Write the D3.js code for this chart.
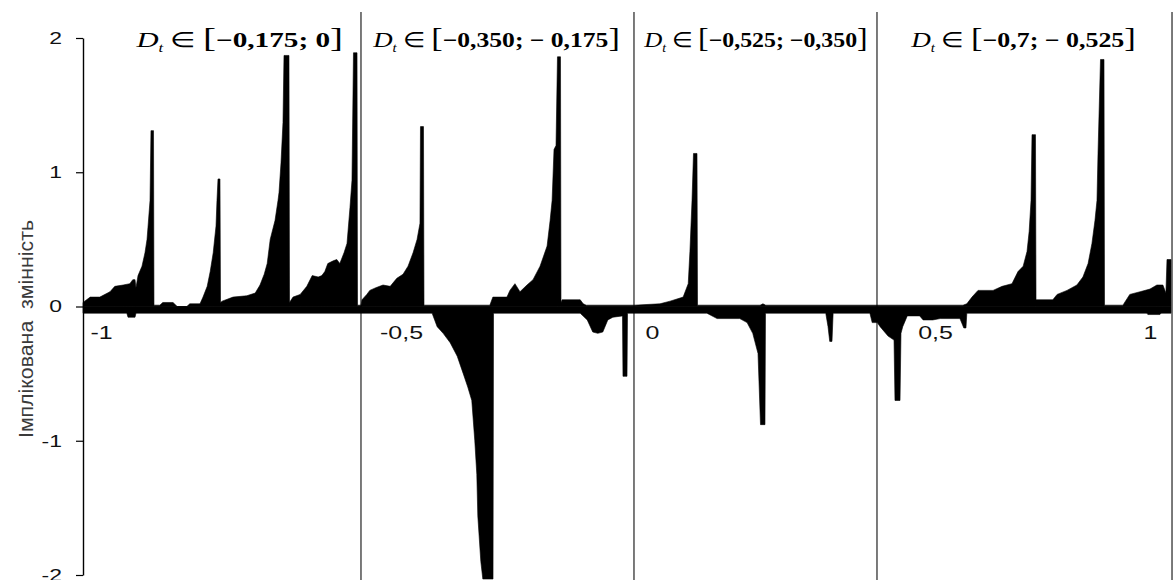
<!DOCTYPE html>
<html><head><meta charset="utf-8">
<script src="https://cdn.jsdelivr.net/npm/d3@7"></script>
<style>body{margin:0;background:#fff}svg{display:block}</style>
</head><body>
<svg id="c" width="1174" height="580"></svg>
<script>
// upper envelope of implied variability: [x, value]
const upperEnvelope = [
[-1.030,0.03],[-1.018,0.07],[-1.002,0.07],[-0.985,0.11],[-0.977,0.15],[-0.963,0.16],[-0.952,0.17],[-0.947,0.20],
[-0.9433,0.20],[-0.9417,0.14],[-0.9383,0.23],[-0.9317,0.30],[-0.9267,0.40],[-0.9233,0.50],[-0.9217,0.59],[-0.9183,0.79],
[-0.9167,1.31],[-0.9125,1.31],[-0.9117,0.01],[-0.902,0.01],[-0.897,0.03],[-0.880,0.03],[-0.873,0.0],[-0.857,0.0],
[-0.852,0.02],[-0.835,0.02],[-0.830,0.07],[-0.823,0.15],[-0.818,0.26],[-0.813,0.40],[-0.8083,0.60],[-0.8067,0.79],
[-0.805,0.95],[-0.8017,0.95],[-0.8008,0.03],[-0.798,0.04],[-0.780,0.07],[-0.757,0.08],[-0.743,0.10],[-0.735,0.16],
[-0.728,0.24],[-0.723,0.32],[-0.718,0.50],[-0.710,0.64],[-0.705,0.79],[-0.7033,0.85],[-0.700,1.07],[-0.6967,1.37],
[-0.695,1.87],[-0.6867,1.87],[-0.6858,0.03],[-0.680,0.07],[-0.668,0.09],[-0.657,0.15],[-0.648,0.23],[-0.638,0.22],
[-0.632,0.23],[-0.627,0.26],[-0.622,0.32],[-0.613,0.34],[-0.607,0.35],[-0.602,0.32],[-0.595,0.40],[-0.590,0.47],
[-0.585,0.74],[-0.5817,0.94],[-0.5792,1.89],[-0.5733,1.89],[-0.5725,0.01],[-0.5667,0.01],[-0.565,0.05],[-0.557,0.09],
[-0.552,0.12],[-0.542,0.14],[-0.530,0.16],[-0.518,0.15],[-0.507,0.21],[-0.496,0.24],[-0.486,0.30],[-0.476,0.40],
[-0.468,0.50],[-0.4622,0.62],[-0.4612,1.34],[-0.4552,1.34],[-0.4542,0.01],[-0.323,0.01],[-0.317,0.07],[-0.289,0.07],
[-0.283,0.12],[-0.273,0.17],[-0.263,0.11],[-0.249,0.16],[-0.237,0.20],[-0.223,0.30],[-0.209,0.45],[-0.203,0.64],
[-0.199,0.79],[-0.1952,1.17],[-0.1912,1.20],[-0.1883,1.86],[-0.1823,1.86],[-0.1813,0.03],[-0.179,0.05],[-0.143,0.05],
[-0.137,0.02],[-0.131,0.01],[-0.036,0.01],[0.014,0.02],[0.032,0.04],[0.055,0.07],[0.064,0.17],[0.067,0.41],
[0.0707,0.79],[0.0733,1.14],[0.0795,1.14],[0.0804,0.01],[0.191,0.01],[0.196,0.02],[0.201,0.01],[0.403,0.01],
[0.565,0.01],[0.574,0.02],[0.586,0.07],[0.600,0.12],[0.635,0.12],[0.656,0.15],[0.679,0.17],[0.693,0.26],
[0.705,0.30],[0.714,0.41],[0.719,0.56],[0.7233,0.79],[0.7256,1.28],[0.7337,1.28],[0.7349,0.05],[0.774,0.05],
[0.784,0.09],[0.807,0.12],[0.830,0.16],[0.844,0.22],[0.856,0.32],[0.865,0.47],[0.872,0.64],[0.8767,0.79],
[0.8791,1.14],[0.8849,1.84],[0.893,1.84],[0.8942,0.01],[0.937,0.01],[0.947,0.06],[0.953,0.09],[0.977,0.11],
[1.000,0.13],[1.016,0.16],[1.030,0.16],[1.037,0.10],[1.0395,0.35],[1.0488,0.35]
];
// lower envelope: [x, value]
const lowerEnvelope = [
[-1.030,-0.05],[-0.957,-0.05],[-0.955,-0.08],[-0.9433,-0.08],[-0.9417,-0.05],[-0.438,-0.05],[-0.428,-0.15],
[-0.416,-0.20],[-0.402,-0.27],[-0.388,-0.37],[-0.376,-0.50],[-0.367,-0.60],[-0.359,-0.70],[-0.353,-1.00],
[-0.349,-1.25],[-0.347,-1.56],[-0.341,-1.90],[-0.337,-2.03],[-0.3167,-2.03],[-0.3157,-0.05],[-0.143,-0.05],
[-0.129,-0.10],[-0.118,-0.19],[-0.108,-0.20],[-0.098,-0.19],[-0.088,-0.10],[-0.078,-0.08],[-0.0588,-0.07],
[-0.0578,-0.52],[-0.0498,-0.52],[-0.0488,-0.05],[0.097,-0.05],[0.115,-0.09],[0.155,-0.09],[0.168,-0.12],
[0.178,-0.20],[0.1873,-0.35],[0.1917,-0.88],[0.1996,-0.88],[0.2005,-0.05],[0.307,-0.05],[0.311,-0.15],
[0.314,-0.26],[0.318,-0.26],[0.320,-0.05],[0.385,-0.05],[0.389,-0.12],[0.398,-0.12],[0.403,-0.15],[0.417,-0.22],
[0.4276,-0.25],[0.4293,-0.70],[0.4382,-0.70],[0.4399,-0.20],[0.443,-0.15],[0.451,-0.07],[0.473,-0.07],
[0.479,-0.10],[0.496,-0.10],[0.512,-0.09],[0.558,-0.09],[0.567,-0.16],[0.572,-0.16],[0.574,-0.05],
[0.993,-0.05],[0.995,-0.06],[1.023,-0.06],[1.026,-0.05],[1.0488,-0.05]
];
const xTickValues = [-1, -0.5, 0, 0.5, 1];
const xTickLabels = ["-1", "-0,5", "0", "0,5", "1"];
const yTickValues = [2, 1, 0, -1, -2];
const yTickLabels = ["2", "1", "0", "-1", "-2"];
const panelEdges = [-0.5667, -0.0359, 0.3975, 1.0512];
const panelRanges = ["\u22120,175; 0", "\u22120,350; \u2212 0,175", "\u22120,525; \u22120,350", "\u22120,7; \u2212 0,525"];
const yTitle = "Імплікована  змінність";

const svg = d3.select("#c");
const sans = "'Liberation Sans', Arial, sans-serif";
const serif = "'Liberation Serif', 'Times New Roman', serif";
const stretch = 1.35; // horizontal stretch of the original raster

const x = d3.scaleLinear().domain([-1, -0.5, 0, 0.5, 1]).range([101, 401, 652, 935, 1150]);
const y = d3.scaleLinear().domain([-2, 2]).range([575, 38]);

// panel separators
svg.append("g").selectAll("line").data(panelEdges).join("line")
  .attr("x1", d => x(d)).attr("x2", d => x(d))
  .attr("y1", 12).attr("y2", 580)
  .attr("stroke", "#333").attr("stroke-width", 1.3);

// areas
const area = d3.area().x(d => x(d[0])).y0(y(0)).y1(d => y(d[1]));
[upperEnvelope, lowerEnvelope].forEach(s => {
  svg.append("path").datum(s).attr("d", area)
    .attr("fill", "#000").attr("stroke", "#000").attr("stroke-width", 0.6);
});

// y axis
const ya = svg.append("g").attr("transform", "translate(83,0)")
  .call(d3.axisLeft(y).tickValues(yTickValues).tickFormat((d, i) => yTickLabels[i])
    .tickSize(7).tickSizeOuter(0).tickPadding(14));
ya.select(".domain").attr("stroke", "#000").attr("stroke-width", 1.4);
ya.selectAll(".tick line").attr("stroke", "#000").attr("stroke-width", 1.2);
ya.selectAll("text").attr("font-family", sans).attr("font-size", 17).attr("fill", "#111")
  .attr("x", -21 / stretch).attr("transform", `scale(${stretch},1)`);

// x axis
const xa = svg.append("g").attr("transform", `translate(0,${y(0)})`)
  .call(d3.axisBottom(x).tickValues(xTickValues).tickFormat((d, i) => xTickLabels[i])
    .tickSize(0).tickPadding(19.5));
xa.select(".domain").remove();
xa.selectAll("text").attr("font-family", sans).attr("font-size", 18.5).attr("fill", "#111")
  .attr("transform", `scale(${stretch},1)`);

// y title
svg.append("text")
  .attr("transform", "translate(33,329) rotate(-90)")
  .attr("text-anchor", "middle")
  .attr("font-family", sans).attr("font-size", 21).attr("fill", "#3a3a3a")
  .attr("textLength", 218).attr("lengthAdjust", "spacingAndGlyphs")
  .style("white-space", "pre")
  .text(yTitle);

// panel titles
const titleSpans = [[135, 343], [372, 620], [643, 868], [910, 1135]];
panelRanges.forEach((r, i) => {
  const g = svg.append("g");
  const t = g.append("text").attr("font-family", serif).attr("fill", "#000").style("white-space", "pre");
  t.append("tspan").attr("font-style", "italic").attr("font-size", 22).text("D");
  t.append("tspan").attr("font-style", "italic").attr("font-size", 12).attr("dy", 5).text("t");
  t.append("tspan").attr("font-size", 21).attr("dy", -5).text(" \u2208 ");
  t.append("tspan").attr("font-size", 28).text("[");
  t.append("tspan").attr("font-size", 21).attr("font-weight", "bold").text(r);
  t.append("tspan").attr("font-size", 28).text("]");
  const bb = t.node().getBBox();
  const [a, b] = titleSpans[i];
  const s = (b - a) / bb.width;
  g.attr("transform", `translate(${a - bb.x * s},47) scale(${s},1)`);
});
</script>
</body></html>
